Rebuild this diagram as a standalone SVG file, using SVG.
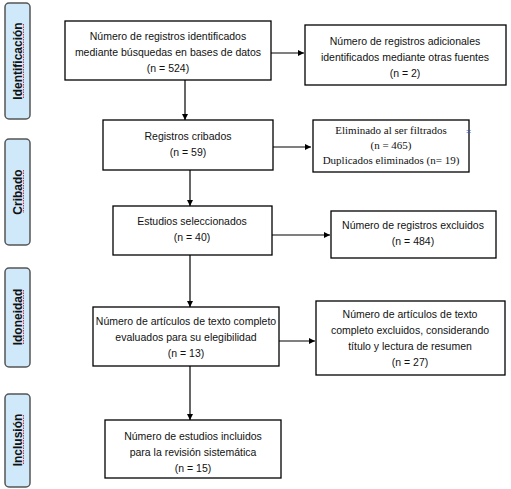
<svg xmlns="http://www.w3.org/2000/svg" width="511" height="489" viewBox="0 0 511 489">
<defs>
<marker id="ah" viewBox="0 0 10 10" refX="10" refY="5" markerWidth="6" markerHeight="6" markerUnits="userSpaceOnUse" orient="auto"><path d="M0,0 L10,5 L0,10 z" fill="#000"/></marker>
<style>
.box{fill:#fff;stroke:#000;stroke-width:1.3}
.side{fill:#cfe9fb;stroke:#555;stroke-width:1.5}
.t{font-family:"Liberation Sans",Arial,sans-serif;font-size:10.5px;fill:#111;text-anchor:middle}
.s{font-family:"Liberation Serif","Times New Roman",serif;font-size:11px;fill:#111;text-anchor:middle}
.lab{font-family:"Liberation Sans",Arial,sans-serif;font-size:12px;font-weight:bold;fill:#111;text-anchor:middle}
.sq{stroke:#e03030;stroke-width:1;stroke-dasharray:1.5,1;fill:none}
.c{stroke:#000;stroke-width:1.2;fill:none;marker-end:url(#ah)}
</style>
</defs>
<g id="side-identificacion"><rect class="side" x="5" y="3" width="25" height="116" rx="4"/><text class="lab" transform="translate(21.5,61) rotate(-90)">Identificación</text><line class="sq" x1="23.5" y1="24" x2="23.5" y2="98"/></g>
<g id="side-cribado"><rect class="side" x="5" y="139" width="25" height="106" rx="4"/><text class="lab" transform="translate(21.5,192) rotate(-90)">Cribado</text><line class="sq" x1="23.5" y1="170" x2="23.5" y2="213"/></g>
<g id="side-idoneidad"><rect class="side" x="5" y="268" width="25" height="99" rx="4"/><text class="lab" transform="translate(21.5,317) rotate(-90)">Idoneidad</text><line class="sq" x1="23.5" y1="290" x2="23.5" y2="345"/></g>
<g id="side-inclusion"><rect class="side" x="5" y="394" width="25" height="93" rx="4"/><text class="lab" transform="translate(21.5,440) rotate(-90)">Inclusión</text><line class="sq" x1="23.5" y1="415" x2="23.5" y2="465"/></g>
<g id="connectors">
<line class="c" x1="271" y1="53" x2="304" y2="53"/>
<line class="c" x1="185" y1="80" x2="185" y2="120"/>
<line class="c" x1="273" y1="147" x2="311" y2="147"/>
<line class="c" x1="190" y1="170" x2="190" y2="206"/>
<line class="c" x1="272" y1="235" x2="330" y2="235"/>
<line class="c" x1="190" y1="255" x2="190" y2="307"/>
<line class="c" x1="279" y1="341" x2="315" y2="341"/>
<line class="c" x1="190" y1="366" x2="190" y2="420"/>
</g>
<g id="n1"><rect class="box" x="65" y="21" width="206" height="59"/><text class="t" x="168" y="40">Número de registros identificados</text><text class="t" x="168" y="56">mediante búsquedas en bases de datos</text><text class="t" x="168" y="72">(n = 524)</text></g>
<g id="n2"><rect class="box" x="305" y="25" width="201" height="60"/><text class="t" x="405" y="45">Número de registros adicionales</text><text class="t" x="405" y="61">identificados mediante otras fuentes</text><text class="t" x="405" y="77">(n = 2)</text></g>
<g id="n3"><rect class="box" x="103" y="120" width="170" height="50"/><text class="t" x="188" y="140">Registros cribados</text><text class="t" x="188" y="156">(n = 59)</text></g>
<g id="n4"><rect class="box" x="313" y="120" width="156" height="52"/><text class="s" x="391" y="134">Eliminado al ser filtrados</text><text class="s" x="391" y="149">(n = 465)</text><text class="s" x="391" y="164">Duplicados eliminados (n= 19)</text><text x="466" y="134" style="font-family:'Liberation Sans',sans-serif;font-size:9px;fill:#3355cc">=</text></g>
<g id="n5"><rect class="box" x="113" y="206" width="159" height="49"/><text class="t" x="192" y="225">Estudios seleccionados</text><text class="t" x="192" y="241">(n = 40)</text></g>
<g id="n6"><rect class="box" x="331" y="211" width="165" height="47"/><text class="t" x="413" y="229">Número de registros excluidos</text><text class="t" x="413" y="245">(n = 484)</text></g>
<g id="n7"><rect class="box" x="93" y="307" width="186" height="59"/><text class="t" x="186" y="325">Número de artículos de texto completo</text><text class="t" x="186" y="341">evaluados para su elegibilidad</text><text class="t" x="186" y="357">(n = 13)</text></g>
<g id="n8"><rect class="box" x="316" y="301" width="189" height="74"/><text class="t" x="410" y="318">Número de artículos de texto</text><text class="t" x="410" y="334">completo excluidos, considerando</text><text class="t" x="410" y="350">título y lectura de resumen</text><text class="t" x="410" y="366">(n = 27)</text></g>
<g id="n9"><rect class="box" x="105" y="420" width="176" height="58"/><text class="t" x="193" y="440">Número de estudios incluidos</text><text class="t" x="193" y="456">para la revisión sistemática</text><text class="t" x="193" y="472">(n = 15)</text></g>
</svg>
